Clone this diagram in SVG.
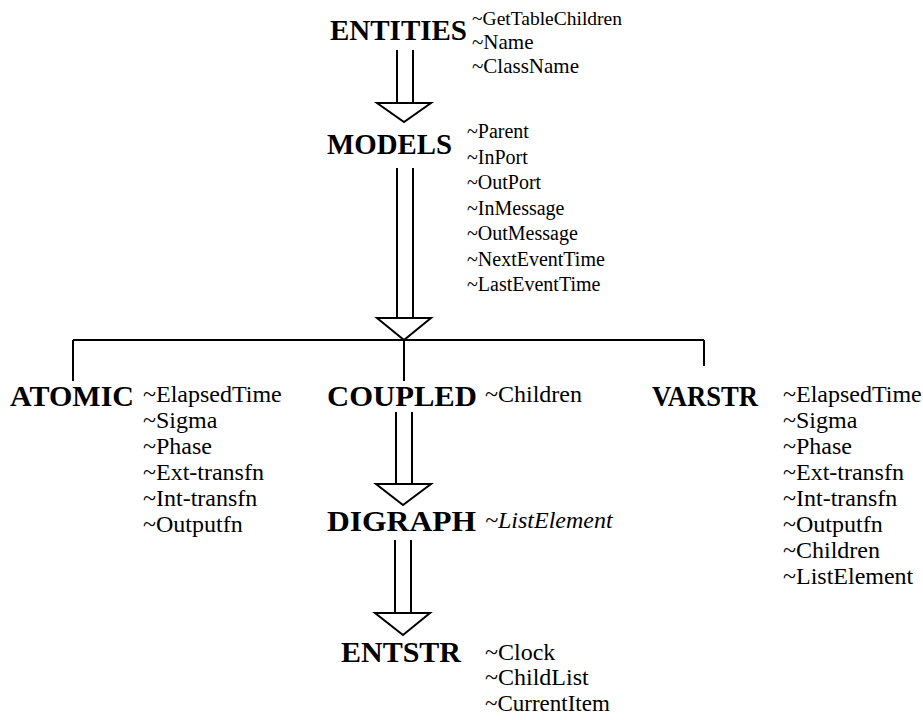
<svg xmlns="http://www.w3.org/2000/svg" width="923" height="720" viewBox="0 0 923 720">
  <style>
    .title { font-family: "Liberation Serif", "Times New Roman", serif; font-weight: bold; font-size: 30px; fill: #000; }
    .attr { font-family: "Liberation Serif", "Times New Roman", serif; font-size: 20px; fill: #000; }
    .big { font-size: 24px; }
    .it { font-style: italic; }
    .ln { stroke: #000; stroke-width: 2; fill: none; }
    .head { stroke: #000; stroke-width: 2; fill: #fff; stroke-linejoin: miter; }
  </style>
  <rect width="923" height="720" fill="#fff"/>

  <!-- inheritance connectors: double shaft with hollow triangle head -->
  <g id="connectors">
    <!-- ENTITIES to MODELS -->
    <line class="ln" x1="397" y1="50" x2="397" y2="103"/>
    <line class="ln" x1="413" y1="50" x2="413" y2="103"/>
    <polygon class="head" points="377,103 431,103 404,122"/>
    <!-- MODELS to branch bar -->
    <line class="ln" x1="397" y1="168" x2="397" y2="318"/>
    <line class="ln" x1="413" y1="168" x2="413" y2="318"/>
    <polygon class="head" points="377,318 431,318 404,340"/>
    <!-- branch bar and drops -->
    <line class="ln" x1="73" y1="340" x2="704" y2="340"/>
    <line class="ln" x1="73" y1="340" x2="73" y2="381"/>
    <line class="ln" x1="404" y1="340" x2="404" y2="381"/>
    <line class="ln" x1="704" y1="340" x2="704" y2="366"/>
    <!-- COUPLED to DIGRAPH -->
    <line class="ln" x1="396" y1="412" x2="396" y2="484"/>
    <line class="ln" x1="412" y1="412" x2="412" y2="484"/>
    <polygon class="head" points="376,484 431,484 403,505"/>
    <!-- DIGRAPH to ENTSTR -->
    <line class="ln" x1="395" y1="540" x2="395" y2="613"/>
    <line class="ln" x1="411" y1="540" x2="411" y2="613"/>
    <polygon class="head" points="375,613 430,613 403,635"/>
  </g>

  <g id="entities">
    <text class="title" x="330" y="40" textLength="137" lengthAdjust="spacingAndGlyphs">ENTITIES</text>
    <text class="attr" x="472" y="25" style="font-size:19.5px">~GetTableChildren</text>
    <text class="attr" x="472" y="49" style="font-size:21px">~Name</text>
    <text class="attr" x="472" y="73" style="font-size:21px">~ClassName</text>
  </g>

  <g id="models">
    <text class="title" x="327" y="154" textLength="125" lengthAdjust="spacingAndGlyphs">MODELS</text>
    <text class="attr" x="467" y="138">~Parent</text>
    <text class="attr" x="467" y="163.5">~InPort</text>
    <text class="attr" x="467" y="189">~OutPort</text>
    <text class="attr" x="467" y="214.5">~InMessage</text>
    <text class="attr" x="467" y="240">~OutMessage</text>
    <text class="attr" x="467" y="265.5">~NextEventTime</text>
    <text class="attr" x="467" y="291">~LastEventTime</text>
  </g>

  <g id="atomic">
    <text class="title" x="10" y="406" textLength="124" lengthAdjust="spacingAndGlyphs">ATOMIC</text>
    <text class="attr big" x="143" y="402">~ElapsedTime</text>
    <text class="attr big" x="143" y="428">~Sigma</text>
    <text class="attr big" x="143" y="454">~Phase</text>
    <text class="attr big" x="143" y="480">~Ext-transfn</text>
    <text class="attr big" x="143" y="506">~Int-transfn</text>
    <text class="attr big" x="143" y="532">~Outputfn</text>
  </g>

  <g id="coupled">
    <text class="title" x="327" y="406" textLength="150" lengthAdjust="spacingAndGlyphs">COUPLED</text>
    <text class="attr big" x="485" y="402">~Children</text>
  </g>

  <g id="varstr">
    <text class="title" x="652" y="406" textLength="106" lengthAdjust="spacingAndGlyphs">VARSTR</text>
    <text class="attr big" x="783" y="402">~ElapsedTime</text>
    <text class="attr big" x="783" y="428">~Sigma</text>
    <text class="attr big" x="783" y="454">~Phase</text>
    <text class="attr big" x="783" y="480">~Ext-transfn</text>
    <text class="attr big" x="783" y="506">~Int-transfn</text>
    <text class="attr big" x="783" y="532">~Outputfn</text>
    <text class="attr big" x="783" y="558">~Children</text>
    <text class="attr big" x="783" y="584">~ListElement</text>
  </g>

  <g id="digraph">
    <text class="title" x="327" y="531" textLength="149" lengthAdjust="spacingAndGlyphs">DIGRAPH</text>
    <text class="attr big it" x="485" y="528">~ListElement</text>
  </g>

  <g id="entstr">
    <text class="title" x="341" y="662" textLength="120" lengthAdjust="spacingAndGlyphs">ENTSTR</text>
    <text class="attr big" x="485" y="660">~Clock</text>
    <text class="attr big" x="485" y="685">~ChildList</text>
    <text class="attr big" x="485" y="711" style="font-size:23px">~CurrentItem</text>
  </g>
</svg>
